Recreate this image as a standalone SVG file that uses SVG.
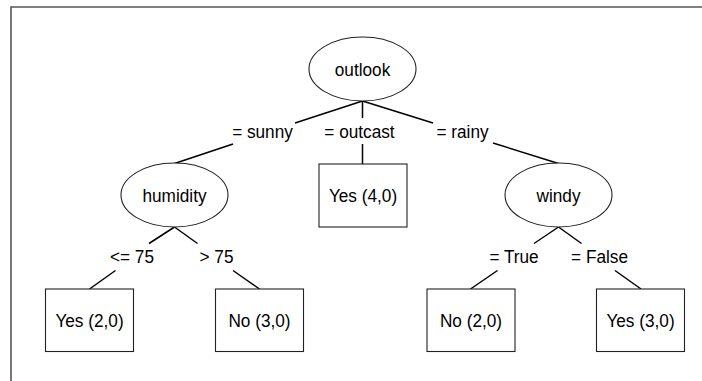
<svg xmlns="http://www.w3.org/2000/svg" width="702" height="381" viewBox="0 0 702 381">
<style>
.n{fill:#fff;stroke:#222;stroke-width:1.1}
.e{stroke:#000;stroke-width:1.5;fill:none}
text{font-family:"Liberation Sans",Arial,sans-serif;font-size:18.5px;fill:#000;text-anchor:middle}
.fr{stroke:#555;stroke-width:1.6;fill:none}
</style>
<rect width="702" height="381" fill="#fff"/>
<path class="fr" d="M11,381 V7 H702"/>
<g id="connectors">
<line class="e" x1="362.5" y1="101" x2="295" y2="123"/>
<line class="e" x1="233" y1="144" x2="174.5" y2="163.5"/>
<line class="e" x1="362.5" y1="101" x2="362.5" y2="118"/>
<line class="e" x1="362.5" y1="144" x2="362.5" y2="164"/>
<line class="e" x1="362.5" y1="101" x2="433" y2="123"/>
<line class="e" x1="493" y1="143" x2="558.5" y2="163.5"/>
<line class="e" x1="174.5" y1="227" x2="149" y2="243.5"/>
<line class="e" x1="115.5" y1="270.5" x2="89.5" y2="289"/>
<line class="e" x1="174.5" y1="227" x2="197.5" y2="243.5"/>
<line class="e" x1="233" y1="270.5" x2="259.5" y2="289"/>
<line class="e" x1="558.5" y1="227" x2="534" y2="243.5"/>
<line class="e" x1="497.5" y1="270.5" x2="470.5" y2="289"/>
<line class="e" x1="558.5" y1="227" x2="581.5" y2="243.5"/>
<line class="e" x1="615" y1="270.5" x2="641" y2="289"/>
<text transform="translate(262.5 137.5) scale(0.93 1)">= sunny</text>
<text transform="translate(359.5 137.5) scale(0.93 1)">= outcast</text>
<text transform="translate(462.5 137.5) scale(0.93 1)">= rainy</text>
<text transform="translate(132 263) scale(0.93 1)">&lt;= 75</text>
<text transform="translate(216.5 263) scale(0.93 1)">&gt; 75</text>
<text transform="translate(514 263) scale(0.93 1)">= True</text>
<text transform="translate(599.5 263) scale(0.93 1)">= False</text>
</g>
<g id="outlook"><ellipse class="n" cx="362.5" cy="69" rx="53.5" ry="32"/><text transform="translate(362.5 75.5) scale(0.93 1)">outlook</text></g>
<g id="humidity"><ellipse class="n" cx="174.5" cy="195" rx="53.5" ry="32"/><text transform="translate(174.5 201.5) scale(0.93 1)">humidity</text></g>
<g id="windy"><ellipse class="n" cx="558.5" cy="195" rx="53.5" ry="32"/><text transform="translate(558.5 201.5) scale(0.93 1)">windy</text></g>
<g id="yes40"><rect class="n" x="319" y="164" width="88" height="63"/><text transform="translate(363 202) scale(0.93 1)">Yes (4,0)</text></g>
<g id="yes20"><rect class="n" x="45.5" y="289" width="88" height="62.5"/><text transform="translate(89.5 327) scale(0.93 1)">Yes (2,0)</text></g>
<g id="no30"><rect class="n" x="215.5" y="289" width="88" height="62.5"/><text transform="translate(259.5 327) scale(0.93 1)">No (3,0)</text></g>
<g id="no20"><rect class="n" x="427" y="289" width="88" height="62.5"/><text transform="translate(471 327) scale(0.93 1)">No (2,0)</text></g>
<g id="yes30"><rect class="n" x="596.5" y="289" width="88" height="62.5"/><text transform="translate(640.5 327) scale(0.93 1)">Yes (3,0)</text></g>
</svg>
